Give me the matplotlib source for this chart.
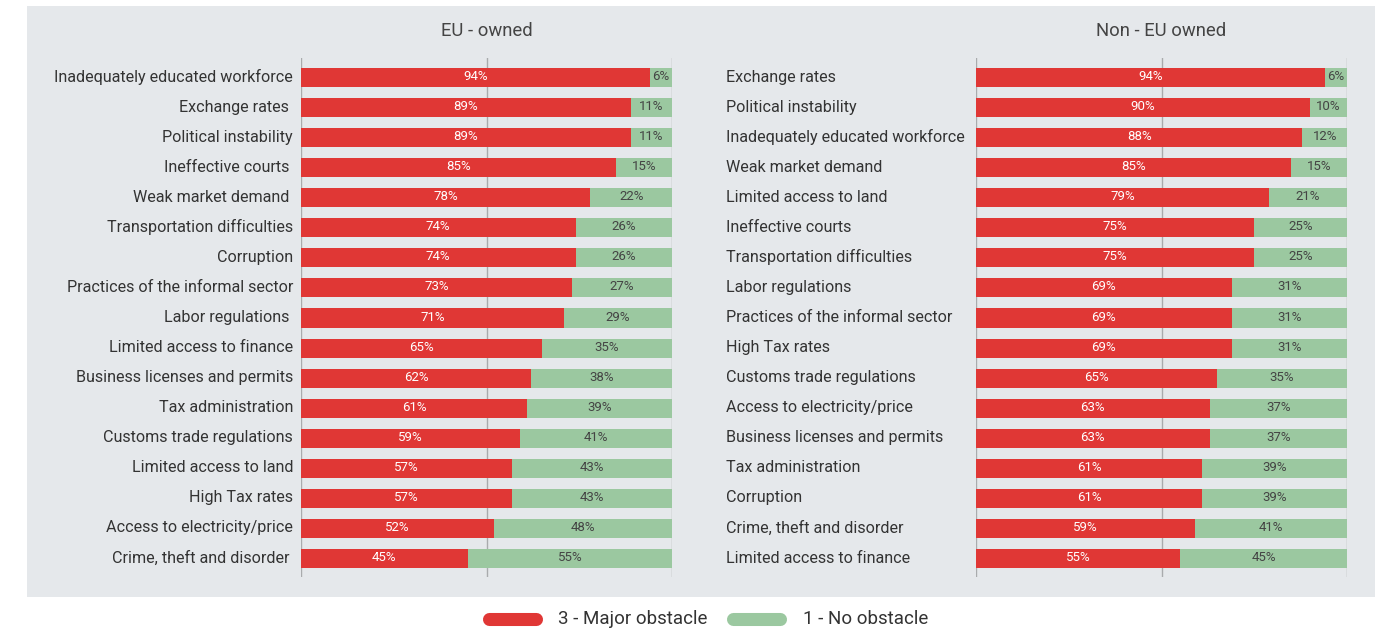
import matplotlib
matplotlib.use("Agg")
import matplotlib.pyplot as plt
from matplotlib.patches import Rectangle
from matplotlib.lines import Line2D
from matplotlib.transforms import ScaledTranslation

plt.rcParams['font.family'] = ['Roboto', 'DejaVu Sans']

# EU-owned firms
eu_categories = [
    "Inadequately educated workforce", "Exchange rates ", "Political instability",
    "Ineffective courts ", "Weak market demand ", "Transportation difficulties",
    "Corruption", "Practices of the informal sector", "Labor regulations ",
    "Limited access to finance", "Business licenses and permits", "Tax administration",
    "Customs trade regulations", "Limited access to land", "High Tax rates",
    "Access to electricity/price", "Crime, theft and disorder ",
]
eu_major = [94, 89, 89, 85, 78, 74, 74, 73, 71, 65, 62, 61, 59, 57, 57, 52, 45]
eu_none = [6, 11, 11, 15, 22, 26, 26, 27, 29, 35, 38, 39, 41, 43, 43, 48, 55]

# Non-EU-owned firms
noneu_categories = [
    "Exchange rates", "Political instability", "Inadequately educated workforce",
    "Weak market demand", "Limited access to land", "Ineffective courts",
    "Transportation difficulties", "Labor regulations", "Practices of the informal sector",
    "High Tax rates", "Customs trade regulations", "Access to electricity/price",
    "Business licenses and permits", "Tax administration", "Corruption",
    "Crime, theft and disorder", "Limited access to finance",
]
noneu_major = [94, 90, 88, 85, 79, 75, 75, 69, 69, 69, 65, 63, 63, 61, 61, 59, 55]
noneu_none = [6, 10, 12, 15, 21, 25, 25, 31, 31, 31, 35, 37, 37, 39, 39, 41, 45]

series_labels = ["3 - Major obstacle", "1 - No obstacle"]
titles = ["EU - owned", "Non - EU owned"]

RED = "#e03735"
GREEN = "#9bc8a0"
PANEL = "#e5e8eb"
GRID = "#a9abad"
TEXT = "#333333"

W, H = 1379, 632
fig = plt.figure(figsize=(W / 100, H / 100), dpi=100)
fig.patch.set_facecolor("white")

# grey panel behind both charts
fig.add_artist(Rectangle((27 / W, 1 - 597 / H), (1375 - 27) / W, (597 - 6) / H,
                         transform=fig.transFigure, facecolor=PANEL,
                         edgecolor="none", zorder=0))

ax_bottom = 1 - 577 / H
ax_height = (577 - 58) / H
ax_eu = fig.add_axes([301 / W, ax_bottom, (672 - 301) / W, ax_height])
ax_ne = fig.add_axes([976 / W, ax_bottom, (1347 - 976) / W, ax_height])


def draw_panel(ax, cats, major, none, title, labels_left_aligned):
    ax.set_facecolor("none")
    n = len(cats)
    ys = list(range(n))
    maj = [v / 100 for v in major]
    non = [v / 100 for v in none]
    ax.barh(ys, maj, height=0.633, color=RED, zorder=2)
    ax.barh(ys, non, left=maj, height=0.633, color=GREEN, zorder=2)
    lift = ScaledTranslation(0, 1 / 100, fig.dpi_scale_trans)
    for y, m, o in zip(ys, maj, non):
        ax.text(m / 2, y, f"{round(m * 100)}%", ha="center", va="center",
                color="white", fontsize=9.5, zorder=3,
                transform=ax.transData + lift)
        ax.text(m + o / 2, y, f"{round(o * 100)}%", ha="center", va="center",
                color="#444444", fontsize=9.5, zorder=3,
                transform=ax.transData + lift)
    for gx in (0, 0.5, 1.0):
        ax.axvline(gx, color=GRID, lw=1, zorder=1)
    ax.set_xlim(0, 1)
    ax.set_ylim(n - 1 + 0.615, -0.649)
    ax.set_xticks([])
    ax.set_yticks(ys)
    ax.set_yticklabels(cats, fontsize=11.6, color=TEXT)
    for s in ax.spines.values():
        s.set_visible(False)
    if labels_left_aligned:
        ax.tick_params(axis="y", length=0, pad=(976 - 726) * 0.72)
        for t in ax.get_yticklabels():
            t.set_horizontalalignment("left")
    else:
        ax.tick_params(axis="y", length=0, pad=8 * 0.72)
    up = ScaledTranslation(0, 2 / 100, fig.dpi_scale_trans)
    for t in ax.get_yticklabels():
        t.set_transform(t.get_transform() + up)
    ax.set_title(title, fontsize=13.3, color="#444444", pad=(58 - 30) * 0.72 - 4.5)


draw_panel(ax_eu, eu_categories, eu_major, eu_none, titles[0], False)
draw_panel(ax_ne, noneu_categories, noneu_major, noneu_none, titles[1], True)

# legend with pill-shaped swatches
leg_y = 1 - 619 / H
for (x0, x1, tx), col, lab in zip([(482, 542, 558), (726, 786, 803)],
                                  [RED, GREEN], series_labels):
    fig.add_artist(Line2D([(x0 + 6.5) / W, (x1 - 6.5) / W], [leg_y, leg_y],
                          transform=fig.transFigure, color=col, lw=9.4,
                          solid_capstyle="round"))
    fig.text(tx / W, leg_y, lab, ha="left", va="center", fontsize=13.5,
             color=TEXT)

fig.savefig("out.png", dpi=100, facecolor="white")
